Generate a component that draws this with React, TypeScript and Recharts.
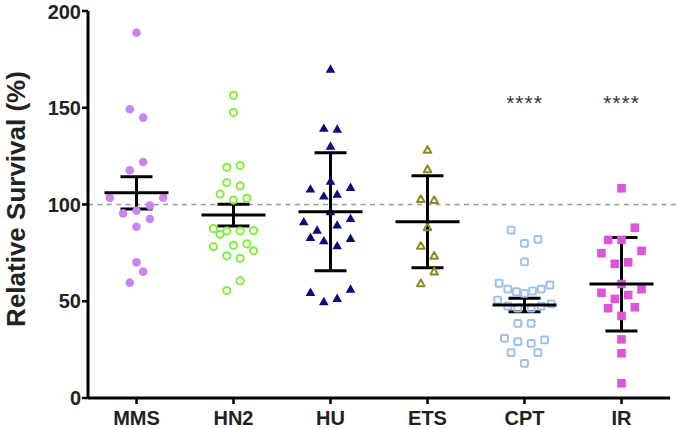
import React from 'react';
import { ScatterChart, Scatter, XAxis, YAxis, ReferenceLine, ErrorBar } from 'recharts';

// x categories and y ticks
const categories = ['MMS', 'HN2', 'HU', 'ETS', 'CPT', 'IR'];
const yTicks = [0, 50, 100, 150, 200];

// per-group survival values (%) and their beeswarm slot (left/right of center)
const mmsValues = [188.8, 149.2, 144.9, 122, 117.7, 103.5, 103.5, 99.4, 96.8, 95.4, 92.5, 88.5, 70.1, 65.3, 59.6];
const mmsSlots = [0, -1, 1, 1, -1, -4, 4, 2, 0, -2, 2, 0, 0, 1, -1];

const hn2Values = [156.4, 147.5, 119.2, 120.1, 111.3, 109.6, 105.4, 103.2, 102.3, 87.5, 84.6, 86.3, 86.3, 86.5, 78.2, 78.9, 79.7, 76.1, 73.5, 72.2, 60.5, 55.5];
const hn2Slots = [0, 0, -1, 1, -1, 1, -2, 2, 0, -3, -2, -1, 1, 3, -3, 0, 2, 3, -1, 1, 1, -1];

const huValues = [170, 139.4, 139, 130.2, 112.1, 108, 108.9, 104.4, 105.3, 96.3, 91.1, 92.8, 89.4, 86.8, 83, 81.3, 82.5, 78.7, 54.6, 56.3, 49.8, 51.5];
const huSlots = [0, -1, 1, 0, 0, -3, 3, -1, 1, 0, -4, 3, 1, -2, -3, -1, 3, 1, -3, 3, -1, 1];

const etsValues = [128.2, 118.2, 102.8, 102.3, 88.2, 78.6, 73.5, 65.3, 59.3];
const etsSlots = [0, 0, -1, 1, 0, -1, 1, 1, -1];

const cptValues = [86.8, 82, 79.9, 70.4, 59.3, 58.4, 56.3, 56.3, 54.9, 55.3, 54.1, 50.6, 48.6, 47.5, 46.5, 46.5, 47.5, 38.6, 38.6, 30.8, 29.1, 28.2, 30, 23.4, 23.4, 17.9];
const cptSlots = [-2, 2, 0, 0, -3.8, 3.8, -2.5, 2.5, -1.2, 1.2, 0, -4, 4, -2.5, -1, 1, 2.5, -1, 1, -3, -1, 1, 3, -2, 2, 0];

const irValues = [108.4, 88, 81.7, 81.7, 74.8, 76, 69.3, 70.1, 58.9, 54.4, 56.2, 51.2, 53.2, 46.4, 46.9, 42.4, 30.3, 23.1, 7.6];
const irSlots = [0, 2, -2, 0, -3, 3, -1, 1, 0, -3, 3, -1, 1, -2, 2, 0, 0, 0, 0];

// mean with error bar ends
const means = [106.1, 94.6, 96.3, 91.1, 48.1, 58.9];
const lowers = [97.7, 88.9, 65.8, 67.3, 44.6, 34.6];
const uppers = [114.4, 100.1, 126.8, 114.9, 51.5, 83.0];

// significance marks
const stars = ['', '', '', '', '****', '****'];
const starLevel = 155;
const baseline = 100;

const SLOT = 0.0689; // one marker-width step in category units
const FONT = '"Liberation Sans", Arial, Helvetica, sans-serif';

const toPoints = (idx: number, values: number[], slots: number[]) =>
  values.map((v, i) => ({ x: idx + slots[i] * SLOT, y: v }));

const mmsData = toPoints(0, mmsValues, mmsSlots);
const hn2Data = toPoints(1, hn2Values, hn2Slots);
const huData = toPoints(2, huValues, huSlots);
const etsData = toPoints(3, etsValues, etsSlots);
const cptData = toPoints(4, cptValues, cptSlots);
const irData = toPoints(5, irValues, irSlots);

const summaryData = categories.map((c, i) => ({
  x: i,
  y: means[i],
  err: [means[i] - lowers[i], uppers[i] - means[i]],
}));

const starData = stars
  .map((s, i) => ({ x: i, y: starLevel, label: s }))
  .filter(d => d.label !== '');

const FilledCircle = (p: any) => <circle cx={p.cx} cy={p.cy} r={4.3} fill="#c686f0" />;
const OpenCircle = (p: any) => (
  <circle cx={p.cx} cy={p.cy} r={3.6} fill="none" stroke="#7ff03c" strokeWidth={2} />
);
const FilledTriangle = (p: any) => (
  <polygon
    points={`${p.cx},${p.cy - 4.8} ${p.cx - 4.8},${p.cy + 3.6} ${p.cx + 4.8},${p.cy + 3.6}`}
    fill="#0b0b7e"
  />
);
const OpenTriangle = (p: any) => (
  <polygon
    points={`${p.cx},${p.cy - 3.8} ${p.cx - 3.8},${p.cy + 2.9} ${p.cx + 3.8},${p.cy + 2.9}`}
    fill="none"
    stroke="#8c8c1e"
    strokeWidth={2}
    strokeLinejoin="round"
  />
);
const OpenSquare = (p: any) => (
  <rect x={p.cx - 3.4} y={p.cy - 3.4} width={6.8} height={6.8} fill="none" stroke="#9fbff0" strokeWidth={2} rx={1} />
);
const FilledSquare = (p: any) => (
  <rect x={p.cx - 4.3} y={p.cy - 4.3} width={8.6} height={8.6} fill="#dc55d9" />
);
const MeanLine = (p: any) => (
  <line x1={p.cx - 32} x2={p.cx + 32} y1={p.cy} y2={p.cy} stroke="#000" strokeWidth={3} />
);
const StarText = (p: any) => (
  <text
    x={p.cx}
    y={p.cy + 12}
    textAnchor="middle"
    fontFamily={FONT}
    fontSize={21}
    letterSpacing={1}
    fill="#333"
  >
    {p.payload.label}
  </text>
);

const YLabel = () => (
  <text
    x={25}
    y={199}
    transform="rotate(-90 25 199)"
    textAnchor="middle"
    fontFamily={FONT}
    fontWeight="bold"
    fontSize={26}
    fill="#222"
  >
    Relative Survival (%)
  </text>
);

export default function App() {
  return (
    <div style={{ position: 'absolute', left: 0, top: 0, width: 677, height: 428, background: '#fff' }}>
      <ScatterChart width={677} height={428} margin={{ top: 11, right: 7, bottom: 0, left: 0 }}>
        <XAxis
          type="number"
          dataKey="x"
          domain={[-0.5, 5.5]}
          ticks={[0, 1, 2, 3, 4, 5]}
          tickFormatter={(v: number) => categories[v]}
          height={30}
          axisLine={{ stroke: '#000', strokeWidth: 3 }}
          tickLine={{ stroke: '#000', strokeWidth: 2.5 }}
          tickSize={6}
          tickMargin={7}
          tick={{ fill: '#222', fontFamily: FONT, fontWeight: 'bold', fontSize: 20 }}
          allowDataOverflow
        />
        <YAxis
          type="number"
          dataKey="y"
          domain={[0, 200]}
          ticks={yTicks}
          width={88}
          axisLine={{ stroke: '#000', strokeWidth: 3 }}
          tickLine={{ stroke: '#000', strokeWidth: 2.5 }}
          tickSize={6}
          tickMargin={1}
          tick={{ fill: '#222', fontFamily: FONT, fontWeight: 'bold', fontSize: 20 }}
          label={<YLabel />}
          allowDataOverflow
        />
        <ReferenceLine
          segment={[{ x: -0.5, y: baseline }, { x: 5.57, y: baseline }]}
          ifOverflow="visible"
          stroke="#999"
          strokeWidth={1.6}
          strokeDasharray="5 4.4"
        />
        <Scatter data={mmsData} shape={FilledCircle} isAnimationActive={false} />
        <Scatter data={hn2Data} shape={OpenCircle} isAnimationActive={false} />
        <Scatter data={huData} shape={FilledTriangle} isAnimationActive={false} />
        <Scatter data={etsData} shape={OpenTriangle} isAnimationActive={false} />
        <Scatter data={cptData} shape={OpenSquare} isAnimationActive={false} />
        <Scatter data={irData} shape={FilledSquare} isAnimationActive={false} />
        <Scatter data={summaryData} shape={MeanLine} isAnimationActive={false}>
          <ErrorBar dataKey="err" direction="y" width={16} stroke="#000" strokeWidth={3} />
        </Scatter>
        <Scatter data={starData} shape={StarText} isAnimationActive={false} />
      </ScatterChart>
    </div>
  );
}
